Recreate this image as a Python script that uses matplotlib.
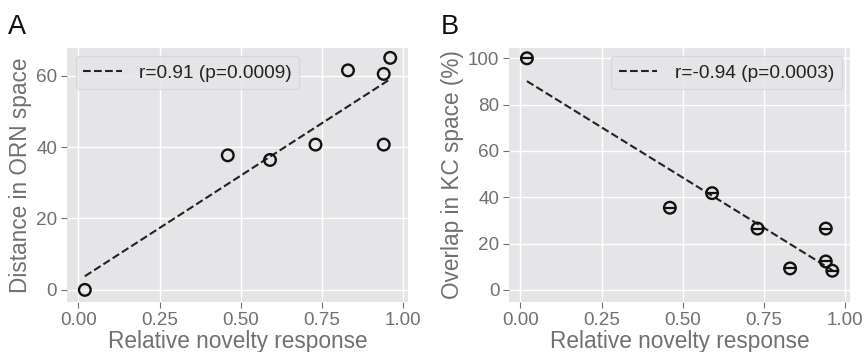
import numpy as np
import matplotlib
matplotlib.use('Agg')
import matplotlib.pyplot as plt

# relative novelty response for the 8 odors
novelty = [0.02, 0.46, 0.59, 0.73, 0.83, 0.94, 0.94, 0.96]
# panel A: distance in ORN space
orn_dist = [0.0, 37.7, 36.4, 40.7, 61.5, 60.5, 40.7, 65.0]
# panel B: overlap in KC space (%)
kc_overlap = [100.0, 35.5, 41.8, 26.5, 9.3, 26.5, 12.3, 8.3]

labels_A = 'r=0.91 (p=0.0009)'
labels_B = 'r=-0.94 (p=0.0003)'

plt.rcParams['font.family'] = ['Liberation Sans', 'DejaVu Sans']
gray = '#707070'


def style(ax):
    ax.set_facecolor('#e5e5e8')
    ax.grid(True, color='white', linewidth=1.0)
    ax.set_axisbelow(True)
    for s in ax.spines.values():
        s.set_visible(False)
    ax.tick_params(colors=gray, labelsize=13.6, length=4, width=0.8, pad=3)
    ax.set_xticks([0, 0.25, 0.5, 0.75, 1.0])
    ax.set_xticklabels(['0.00', '0.25', '0.50', '0.75', '1.00'])


def fit_line(ax, x, y, label):
    x = np.asarray(x)
    m, b = np.polyfit(x, y, 1)
    xs = np.array([x.min(), x.max()])
    ax.plot(xs, m * xs + b, '--', color='#222222', linewidth=1.5, label=label, zorder=2)


def legend(ax, loc):
    leg = ax.legend(loc=loc, fontsize=13.8, frameon=True, handlelength=2.0,
                    handletextpad=0.9, borderpad=0.4, borderaxespad=0.45)
    leg.get_frame().set_facecolor('#e5e5e8')
    leg.get_frame().set_edgecolor('#d5d5d8')
    for t in leg.get_texts():
        t.set_color('#222222')


fig, (axA, axB) = plt.subplots(1, 2, figsize=(8.64, 3.52), dpi=100)
fig.subplots_adjust(left=0.0775, right=0.984, top=0.864, bottom=0.142, wspace=0.296)

# panel A
style(axA)
fit_line(axA, novelty, orn_dist, labels_A)
axA.scatter(novelty, orn_dist, s=70, facecolors='none', edgecolors='#111111', linewidths=1.7, zorder=3)
axA.set_xlim(-0.035, 1.015)
axA.set_ylim(-3.4, 67.8)
axA.set_yticks([0, 20, 40, 60])
axA.set_xlabel('Relative novelty response', color=gray, fontsize=16.3, labelpad=1)
axA.set_ylabel('Distance in ORN space', color=gray, fontsize=16.3, labelpad=3)
legend(axA, 'upper left')

# panel B
style(axB)
fit_line(axB, novelty, kc_overlap, labels_B)
axB.scatter(novelty, kc_overlap, s=70, facecolors='none', edgecolors='#111111', linewidths=1.7, zorder=3)
axB.scatter(novelty, kc_overlap, s=50, marker='_', color='#111111', linewidths=1.6, zorder=3)
axB.set_xlim(-0.035, 1.015)
axB.set_ylim(-5.2, 104.5)
axB.set_yticks([0, 20, 40, 60, 80, 100])
axB.set_xlabel('Relative novelty response', color=gray, fontsize=16.3, labelpad=1)
axB.set_ylabel('Overlap in KC space (%)', color=gray, fontsize=16.3, labelpad=3)
legend(axB, 'upper right')

fig.text(0.009, 1 - 34 / 352, 'A', fontsize=19.5, va='baseline', ha='left', color='#111111')
fig.text(0.510, 1 - 34 / 352, 'B', fontsize=19.5, va='baseline', ha='left', color='#111111')

fig.savefig('out.png', dpi=100)
